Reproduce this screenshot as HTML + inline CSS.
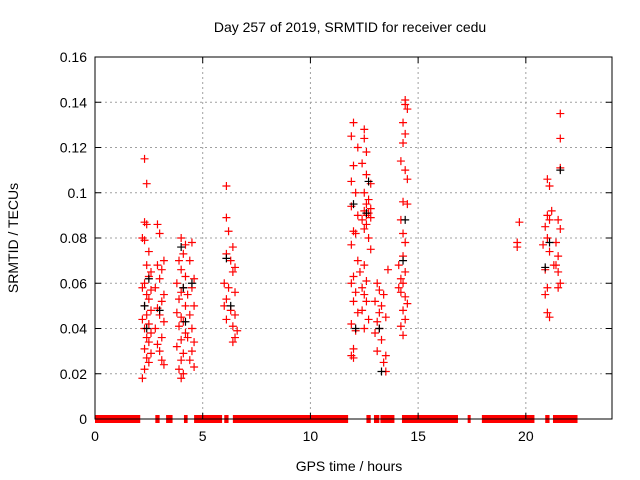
<!DOCTYPE html>
<html><head><meta charset="utf-8"><style>
body{margin:0;background:#fff;}
svg{display:block;font-family:"Liberation Sans",sans-serif;}
</style></head><body>
<svg id="chart" width="640" height="480">
<text x="350" y="32" text-anchor="middle" font-size="14">Day 257 of 2019, SRMTID for receiver cedu</text>
<text x="349" y="471" text-anchor="middle" font-size="14">GPS time / hours</text>
<text x="18" y="238" text-anchor="middle" font-size="14" transform="rotate(-90 18 238)">SRMTID / TECUs</text>
<g id="grid"></g>
<g id="zeros"></g>
<g id="pts"></g>
<rect x="95" y="57" width="517" height="362" fill="none" stroke="#000" stroke-width="1"/>
<g id="ticks"></g>
</svg>
<script>
const xTicks=[0,5,10,15,20];
const yTicks=[0,0.02,0.04,0.06,0.08,0.1,0.12,0.14,0.16];
const yTickLabels=["0","0.02","0.04","0.06","0.08","0.1","0.12","0.14","0.16"];
const zeroStart=[0,2.8,3.3,4.13,4.6,6.0,6.4,12.6,12.95,13.25,14.25,17.3,17.96,20.9,21.26];
const zeroEnd=[2.1,3.0,3.6,4.3,5.9,6.2,11.75,12.8,13.2,13.9,16.85,17.4,20.4,21.1,22.4];
const redHours=[2.3,2.4,2.3,2.4,2.2,2.3,2.5,2.4,2.6,2.5,2.3,2.2,2.6,2.4,2.5,2.3,2.6,2.4,2.2,2.5,2.3,2.6,2.4,2.5,2.3,2.6,2.4,2.5,2.3,2.2,
2.9,3.0,3.2,2.9,3.1,3.0,2.8,3.2,3.1,2.9,3.0,3.2,2.8,3.1,2.9,3.0,3.1,3.2,
4.0,4.2,4.1,3.9,4.0,4.2,3.8,4.1,4.0,3.9,4.2,3.8,4.0,4.1,3.9,4.2,4.0,3.8,4.1,4.0,3.9,4.1,4.0,
4.5,4.4,4.6,4.5,4.3,4.6,4.4,4.5,4.3,4.6,4.5,4.4,4.6,
6.1,6.1,6.2,6.4,6.1,6.3,6.5,6.4,6.0,6.2,6.5,6.1,6.0,6.3,6.5,6.1,6.4,6.6,6.5,6.4,
12.0,11.9,12.2,12.0,11.9,12.1,11.9,12.2,12.0,12.1,11.9,12.2,12.0,11.9,12.1,12.0,12.2,11.9,12.1,12.0,11.9,12.0,
12.5,12.5,12.6,12.4,12.6,12.8,12.5,12.7,12.6,12.8,12.5,12.7,12.6,12.8,12.4,12.6,12.5,12.7,12.8,12.5,12.3,12.6,12.4,12.5,12.6,12.4,12.7,12.5,
13.6,13.1,13.2,13.4,13.0,13.3,13.2,13.5,13.1,13.2,13.0,13.3,13.1,13.5,13.4,13.5,
14.4,14.4,14.5,14.3,14.4,14.3,14.2,14.4,14.5,14.3,14.5,14.2,14.3,14.4,14.3,14.1,14.4,14.2,14.3,14.1,14.2,14.4,14.5,14.3,14.4,14.2,14.3,
19.7,19.6,19.6,
21.0,21.1,21.2,21.0,21.1,20.9,21.0,20.8,21.1,21.3,20.9,21.0,20.9,21.0,21.1,
21.6,21.6,21.6,21.5,21.6,21.4,21.5,21.4,21.5,21.6,21.5];
const redValues=[0.115,0.104,0.087,0.086,0.080,0.079,0.074,0.068,0.065,0.063,0.060,0.058,0.057,0.055,0.053,0.050,0.048,0.046,0.044,0.042,0.040,0.038,0.036,0.034,0.031,0.029,0.027,0.025,0.022,0.018,
0.086,0.082,0.070,0.068,0.066,0.062,0.058,0.055,0.052,0.049,0.046,0.043,0.040,0.036,0.033,0.030,0.026,0.024,
0.080,0.077,0.073,0.070,0.066,0.063,0.060,0.058,0.056,0.053,0.050,0.047,0.045,0.043,0.041,0.038,0.035,0.032,0.029,0.026,0.022,0.020,0.018,
0.078,0.070,0.062,0.058,0.055,0.050,0.046,0.040,0.036,0.034,0.030,0.026,0.023,
0.103,0.089,0.083,0.076,0.073,0.070,0.067,0.065,0.060,0.058,0.056,0.053,0.050,0.048,0.046,0.044,0.041,0.039,0.036,0.034,
0.131,0.125,0.120,0.112,0.105,0.100,0.094,0.090,0.083,0.082,0.077,0.070,0.063,0.060,0.056,0.052,0.047,0.042,0.039,0.031,0.028,0.027,
0.128,0.124,0.118,0.113,0.108,0.104,0.100,0.097,0.095,0.093,0.092,0.091,0.090,0.089,0.088,0.086,0.084,0.080,0.075,0.068,0.065,0.061,0.058,0.055,0.052,0.048,0.044,0.040,
0.066,0.060,0.057,0.055,0.052,0.050,0.047,0.045,0.043,0.040,0.038,0.035,0.030,0.028,0.025,0.021,
0.141,0.139,0.137,0.131,0.126,0.122,0.114,0.110,0.106,0.096,0.095,0.088,0.082,0.078,0.072,0.068,0.065,0.062,0.060,0.058,0.056,0.054,0.051,0.048,0.044,0.041,0.037,
0.087,0.078,0.076,
0.106,0.103,0.092,0.090,0.088,0.085,0.080,0.077,0.074,0.068,0.066,0.058,0.055,0.047,0.045,
0.135,0.124,0.111,0.088,0.084,0.078,0.072,0.068,0.065,0.060,0.058];
const blackHours=[2.3,2.5,2.4,3.0,4.0,4.1,4.2,4.5,6.1,6.3,12.0,12.1,12.6,12.7,13.2,13.3,14.4,14.3,20.9,21.1,21.6];
const blackValues=[0.050,0.062,0.040,0.048,0.076,0.058,0.043,0.060,0.071,0.050,0.095,0.040,0.091,0.105,0.040,0.021,0.088,0.070,0.067,0.078,0.110];

const X0=95,X1=612,Y0=419,Y1=57;
const xs=h=>X0+h/24*(X1-X0);
const ys=v=>Y0-v/0.16*(Y0-Y1);
const NS="http://www.w3.org/2000/svg";
function mk(tag,attrs,parent){const e=document.createElementNS(NS,tag);for(const k in attrs)e.setAttribute(k,attrs[k]);parent.appendChild(e);return e;}
const grid=document.getElementById('grid'),ticks=document.getElementById('ticks'),zeros=document.getElementById('zeros'),pts=document.getElementById('pts');
xTicks.forEach(t=>{const x=xs(t);
 if(t>0){const g=mk('line',{x1:x,x2:x,y1:Y1,y2:Y0,stroke:'#a0a0a0','stroke-dasharray':'2,3'},grid);
 
 }
 mk('line',{x1:x,x2:x,y1:Y0,y2:Y0-6,stroke:'#000'},ticks);
 mk('line',{x1:x,x2:x,y1:Y1,y2:Y1+6,stroke:'#000'},ticks);
 const l=mk('text',{x:x,y:Y0+22,'text-anchor':'middle','font-size':'14'},ticks);l.textContent=t;
 
 });
yTicks.forEach((t,i)=>{const y=ys(t);
 if(t>0&&t<0.16){const g=mk('line',{x1:X0,x2:X1,y1:y,y2:y,stroke:'#a0a0a0','stroke-dasharray':'2,3'},grid);
 
 }
 mk('line',{x1:X0,x2:X0+6,y1:y,y2:y,stroke:'#000'},ticks);
 mk('line',{x1:X1,x2:X1-6,y1:y,y2:y,stroke:'#000'},ticks);
 const l=mk('text',{x:X0-8,y:y+5,'text-anchor':'end','font-size':'14'},ticks);l.textContent=yTickLabels[i];
 
 });
zeroStart.forEach((s,i)=>{const r=mk('rect',{x:xs(s),y:Y0-4,width:Math.max(3,xs(zeroEnd[i])-xs(s)),height:8,fill:'#f00'},zeros);
 
 });
function plus(h,v,c){const x=xs(h),y=ys(v);
 const p=mk('path',{d:`M${x-4},${y}H${x+4}M${x},${y-4}V${y+4}`,stroke:c,'stroke-width':1.2,fill:'none'},pts);return p;}
redHours.forEach((h,i)=>{const p=plus(h,redValues[i],'#f00');
 
 });
blackHours.forEach((h,i)=>{const p=plus(h,blackValues[i],'#000');
 
 });
</script>
</body></html>
